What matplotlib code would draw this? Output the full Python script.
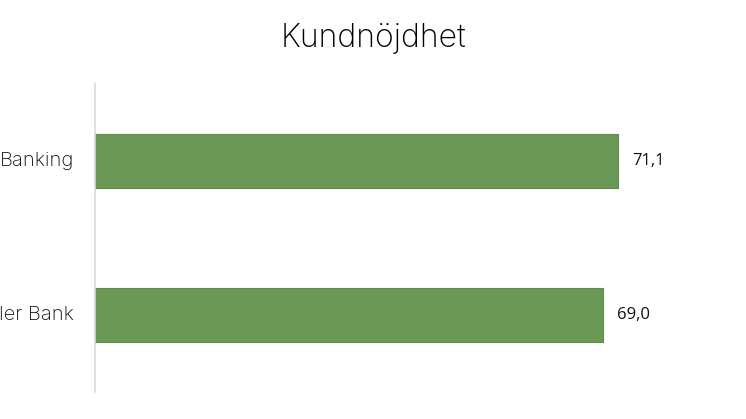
import matplotlib.pyplot as plt

# Data (labels are cut off at the left edge in the reference)
categories = ["ler Bank", "Banking"]
values = [69.0, 71.1]
value_labels = ["69,0", "71,1"]

bar_color = "#6a9955"
edge_color = "#5e8c49"

fig = plt.figure(figsize=(7.46, 4.19), dpi=100)
ax = fig.add_axes([95 / 746, 1 - 392 / 419, (746 - 95) / 746, (392 - 84) / 419])

ypos = list(range(len(categories)))
ax.barh(ypos, values, height=0.35, color=bar_color, edgecolor=edge_color, linewidth=0.8)

ax.set_xlim(0, 88.5)
ax.set_ylim(-0.5, 1.5)

for y, v, lab in zip(ypos, values, value_labels):
    ax.text(v + 1.9, y, lab, va="center", ha="left", fontsize=12,
            family="Open Sans", color="#111111")

for y, cat in zip(ypos, categories):
    fig.text(74 / 746, ax.transData.transform((0, y))[1] / fig.bbox.height, cat,
             ha="right", va="center", fontsize=14.5, family="Inter",
             fontweight="light", color="#111111")

for side in ["top", "right", "bottom"]:
    ax.spines[side].set_visible(False)
ax.spines["left"].set_color("#d9d9d9")
ax.spines["left"].set_linewidth(1.2)
ax.set_xticks([])
ax.set_yticks([])

fig.text(0.5, 1 - 38 / 419, "Kundnöjdhet", ha="center", va="center",
         fontsize=23, family="Inter", fontweight="light", color="#000000")

fig.savefig("out.png", dpi=100)
